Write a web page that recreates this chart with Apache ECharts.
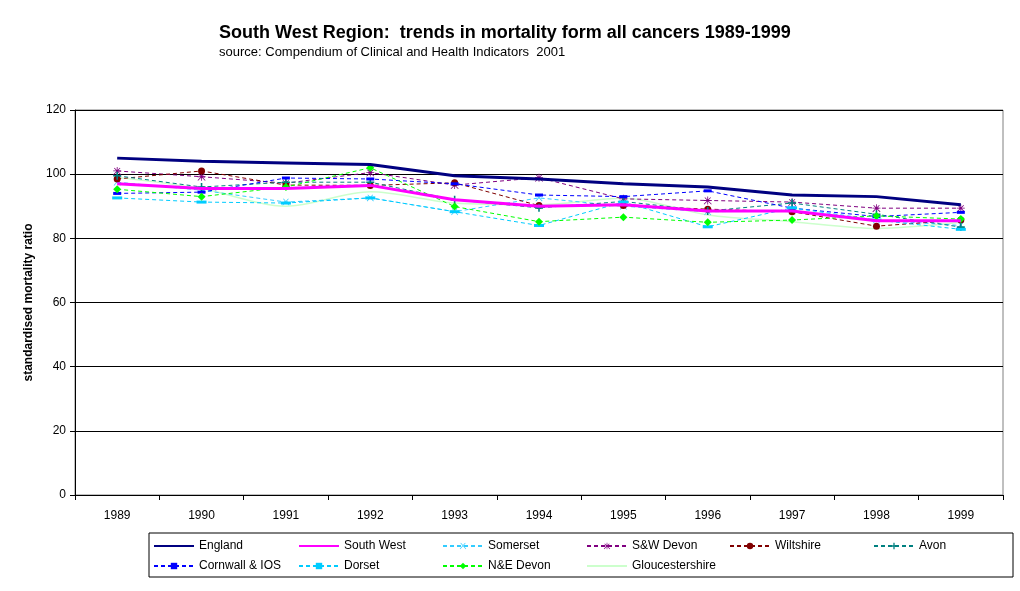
<!DOCTYPE html>
<html>
<head>
<meta charset="utf-8">
<script src="https://cdn.jsdelivr.net/npm/echarts@6/dist/echarts.min.js"></script>
<style>
  html, body { margin: 0; padding: 0; background: #fff; }
  #main { width: 1020px; height: 591px; }
</style>
</head>
<body>
<div id="main"></div>
<script>
// years on the category axis
var years = ['1989', '1990', '1991', '1992', '1993', '1994', '1995', '1996', '1997', '1998', '1999'];
var yTicks = [0, 20, 40, 60, 80, 100, 120];

// standardised mortality ratios
var england        = [105, 104, 103.5, 103, 99.5, 98.5, 97, 96, 93.5, 93, 90.5];
var southWest      = [97, 95.5, 95.5, 96.5, 92, 90, 90.5, 88.5, 88.5, 85.5, 85.5];
var somerset       = [97.5, 95, 91.3, 92.6, 88.3, 92.6, 90, 88.3, 88.5, 85.7, 84];
var swDevon        = [101, 99.2, 97.2, 100.5, 96.6, 98.9, 92.3, 91.8, 91.3, 89.4, 89.4];
var wiltshire      = [98.5, 101, 96.6, 96.5, 97.3, 90.2, 90.2, 89.1, 88.3, 83.8, 85.7];
var avon           = [99.5, 96, 97.5, 97.5, 92, 89.5, 91.5, 88.5, 91, 87.5, 83.5];
var cornwall       = [94, 94.4, 98.8, 98.5, 97, 93.5, 93, 94.8, 89.4, 86.8, 88.1];
var dorset         = [92.6, 91.3, 91, 92.6, 88.3, 84, 91.3, 83.6, 89.5, 85.7, 82.8];
var neDevon        = [95.3, 93, 96, 102, 89.9, 85.2, 86.6, 85, 85.7, 87, 86];
var gloucs         = [99, 95.5, 90, 94.5, 91, 90.5, 92.5, 87.3, 85.2, 83.1, 85];

// marker shapes
var symX = 'path://M1,1.7L1.7,1L10,9.3L9.3,10Z M8.3,1L9,1.7L0.7,10L0,9.3Z';
var symStar = 'path://M4.5,0h1v10h-1z M0,4.5h10v1h-10z M1,1.7L1.7,1L10,9.3L9.3,10Z M8.3,1L9,1.7L0.7,10L0,9.3Z';
var symPlus = 'path://M4,0H6V4H10V6H6V10H4V6H0V4H4Z';
var symBar = 'path://M0,0H10V3H0Z';
var dash = [4, 3];

function dashed(name, data, color, symbol, size) {
  return {
    name: name, type: 'line', data: data,
    symbol: symbol, symbolSize: size,
    itemStyle: { color: color },
    lineStyle: { color: color, width: 1, type: dash },
    z: 3
  };
}

var chart = echarts.init(document.getElementById('main'));
var fontName = 'Liberation Sans, Arial, sans-serif';

// plain solid lines get no marker in the legend
var noMark = ['England', 'South West', 'Gloucestershire'];

function col(left, names) {
  return {
    left: left, top: 540, orient: 'vertical', padding: 0,
    itemWidth: 40, itemHeight: 8, itemGap: 8,
    textStyle: { fontFamily: fontName, fontSize: 12, color: '#000' },
    data: names.map(function (n) {
      return noMark.indexOf(n) > -1 ? { name: n, itemStyle: { opacity: 0 } } : { name: n };
    })
  };
}

var option = {
  animation: false,
  backgroundColor: '#fff',
  textStyle: { fontFamily: fontName },
  title: {
    text: 'South West Region:  trends in mortality form all cancers 1989-1999',
    subtext: 'source: Compendium of Clinical and Health Indicators  2001',
    left: 219, top: 24, padding: 0, itemGap: 4,
    textStyle: { fontFamily: fontName, fontSize: 18, fontWeight: 'bold', color: '#000' },
    subtextStyle: { fontFamily: fontName, fontSize: 13, color: '#000' }
  },
  grid: {
    left: 75, right: 17, top: 110, bottom: 96,
    show: true, borderColor: '#808080', borderWidth: 1
  },
  legend: [
    col(153, ['England', 'Cornwall & IOS']),
    col(298, ['South West', 'Dorset']),
    col(442, ['Somerset', 'N&E Devon']),
    col(586, ['S&W Devon', 'Gloucestershire']),
    col(729, ['Wiltshire']),
    col(873, ['Avon'])
  ],
  graphic: [{
    type: 'rect', silent: true, z: -1,
    shape: { x: 149, y: 533, width: 864, height: 44 },
    style: { fill: '#fff', stroke: '#000', lineWidth: 1 }
  }],
  xAxis: {
    type: 'category', data: years, boundaryGap: true,
    axisLine: { lineStyle: { color: '#000' } },
    axisTick: { show: true, interval: 0, length: 5, lineStyle: { color: '#000' } },
    axisLabel: { color: '#000', fontSize: 12, margin: 15, interval: 0 }
  },
  yAxis: {
    type: 'value', min: yTicks[0], max: yTicks[yTicks.length - 1], interval: 20,
    name: 'standardised mortality ratio', nameLocation: 'middle', nameGap: 40,
    nameTextStyle: { fontWeight: 'bold', fontSize: 12, color: '#000' },
    axisLine: { show: true, lineStyle: { color: '#000' } },
    axisTick: { show: true, length: 5, lineStyle: { color: '#000' } },
    axisLabel: { color: '#000', fontSize: 12, margin: 9 },
    splitLine: { lineStyle: { color: '#000', width: 1 } }
  },
  series: [
    { name: 'England', type: 'line', data: england, symbol: 'none',
      itemStyle: { color: '#000080' }, lineStyle: { color: '#000080', width: 3 }, z: 5 },
    { name: 'South West', type: 'line', data: southWest, symbol: 'none',
      itemStyle: { color: '#ff00ff' }, lineStyle: { color: '#ff00ff', width: 3 }, z: 4 },
    dashed('Somerset', somerset, '#33ccff', symX, 7),
    dashed('S&W Devon', swDevon, '#800080', symStar, 8),
    dashed('Wiltshire', wiltshire, '#800000', 'circle', 7),
    dashed('Avon', avon, '#008080', symPlus, 8),
    dashed('Cornwall & IOS', cornwall, '#0000ff', symBar, [8, 3]),
    dashed('Dorset', dorset, '#00ccff', symBar, [10, 3]),
    dashed('N&E Devon', neDevon, '#00ff00', 'diamond', 8),
    { name: 'Gloucestershire', type: 'line', data: gloucs, symbol: 'none', smooth: 0.3,
      itemStyle: { color: '#ccffcc' }, lineStyle: { color: '#ccffcc', width: 1.5 }, z: 2 }
  ]
};

chart.setOption(option);
</script>
</body>
</html>
